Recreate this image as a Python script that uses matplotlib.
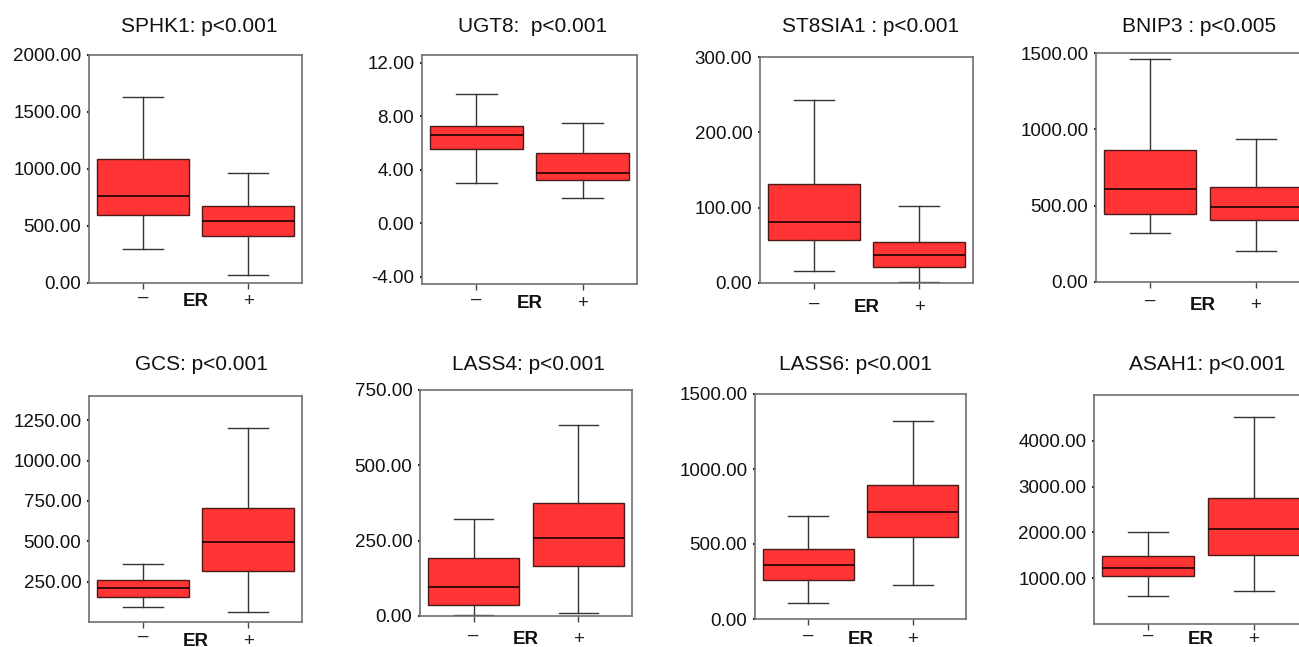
import matplotlib
matplotlib.use("Agg")
import matplotlib.pyplot as plt
import matplotlib.transforms as mtransforms

plt.rcParams['font.family'] = ['Liberation Sans', 'DejaVu Sans']

# Gene expression by ER status (ER- , ER+)
titles = ["SPHK1: p<0.001", "UGT8:  p<0.001", "ST8SIA1 : p<0.001", "BNIP3 : p<0.005",
          "GCS: p<0.001", "LASS4: p<0.001", "LASS6: p<0.001", "ASAH1: p<0.001"]

whisker_low = [[299, 67], [3.0, 1.88], [16.4, 1.8], [320, 201],
               [91, 64], [2, 11], [107, 229], [606, 730]]
q1 = [[597, 410], [5.51, 3.22], [57, 21], [447, 403],
      [153, 316], [35, 165], [260, 547], [1044, 1511]]
medians = [[767, 548], [6.58, 3.77], [81, 37], [607, 493],
           [209, 493], [97, 260], [360, 711], [1219, 2066]]
q3 = [[1092, 676], [7.25, 5.23], [132, 55], [867, 620],
      [260, 704], [192, 374], [469, 893], [1474, 2759]]
whisker_high = [[1628, 963], [9.64, 7.45], [243, 102.5], [1458, 937],
                [361, 1200], [322, 634], [689, 1322], [2000, 4518]]

group_labels = ["–", "+"]
axis_label = "ER"

y_ticks = [[0, 500, 1000, 1500, 2000], [-4, 0, 4, 8, 12], [0, 100, 200, 300],
           [0, 500, 1000, 1500], [250, 500, 750, 1000, 1250], [0, 250, 500, 750],
           [0, 500, 1000, 1500], [1000, 2000, 3000, 4000]]
y_limits = [(0, 2000), (-4.55, 12.57), (0, 300), (0, 1500),
            (0, 1400), (0, 750), (0, 1500), (0, 5000)]

# panel boxes in pixels: left, top, right, bottom
panel_px = [(89, 55, 302, 283), (422, 55, 637, 284), (760, 57, 973, 283), (1096, 53, 1310, 282),
            (89, 396, 302, 622), (420, 390, 632, 616), (755, 394, 966, 619), (1094, 395, 1308, 624)]
title_x = [199, 533, 871, 1199, 201, 528, 855, 1207]
title_y = [27, 27, 27, 27, 365, 365, 365, 365]
label_drop = [19, 20, 25, 23, 19, 24, 21, 16]

W, H = 1299, 647
fig = plt.figure(figsize=(W / 100, H / 100), dpi=100)

RED = "#ff3434"
EDGE = "#4a1a1a"
GRAY = "#707070"

for i in range(8):
    l, t, r, b = panel_px[i]
    ax = fig.add_axes([l / W, 1 - b / H, (r - l) / W, (b - t) / H])
    stats = []
    for g in range(2):
        stats.append(dict(whislo=whisker_low[i][g], q1=q1[i][g], med=medians[i][g],
                          q3=q3[i][g], whishi=whisker_high[i][g], fliers=[]))
    ax.bxp(stats, positions=[1, 2], widths=0.87, capwidths=0.38, patch_artist=True,
           showfliers=False,
           boxprops=dict(facecolor=RED, edgecolor=EDGE, linewidth=1.0),
           medianprops=dict(color="#2a0505", linewidth=1.3),
           whiskerprops=dict(color="#333333", linewidth=1.0),
           capprops=dict(color="#333333", linewidth=1.0))
    ax.set_xlim(0.49, 2.51)
    ax.set_ylim(*y_limits[i])
    ax.set_yticks(y_ticks[i])
    ax.set_yticklabels([f"{v:.2f}" for v in y_ticks[i]], fontsize=13.5, color="#111111")
    ax.tick_params(axis='y', length=1.5, width=1.5, pad=4, color="#222222")
    ax.set_xticks([1, 2])
    ax.set_xticklabels([])
    ax.tick_params(axis='x', length=4, width=1.0, color="#444444")
    for s in ax.spines.values():
        s.set_color(GRAY)
        s.set_linewidth(1.2)

    trans = mtransforms.blended_transform_factory(ax.transData, fig.transFigure)
    yl = 1 - (b + label_drop[i]) / H
    ax.text(1, yl + 5 / H, group_labels[0], transform=trans, ha='center', va='center',
            fontsize=13.5, color="#222222")
    ax.text(2, yl, group_labels[1], transform=trans, ha='center', va='center',
            fontsize=13.5, color="#222222")
    ax.text(1.5, yl, axis_label, transform=trans, ha='center', va='center',
            fontsize=13.5, fontweight='bold', color="#111111")

    fig.text(title_x[i] / W, 1 - title_y[i] / H, titles[i], ha='center', va='center',
             fontsize=15, color="#111111")

fig.savefig("out.png", dpi=100, facecolor="white")
